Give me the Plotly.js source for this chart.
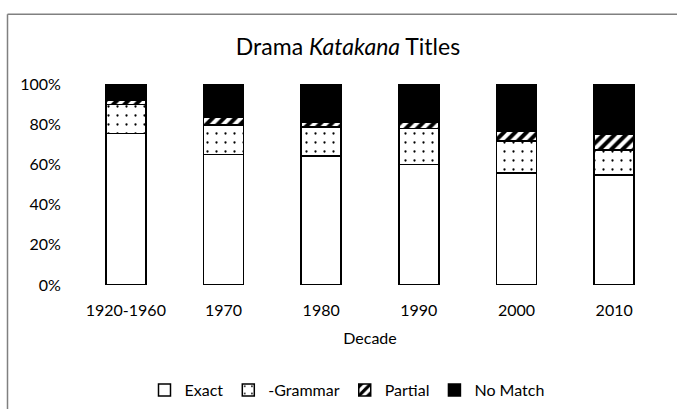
<!DOCTYPE html>
<html>
<head>
<meta charset="utf-8">
<script src="https://cdn.plot.ly/plotly-3.0.1.min.js"></script>
<style>html,body{margin:0;padding:0;background:#fff;}#chart{width:677px;height:409px;}</style>
</head>
<body>
<div id="chart"></div>
<script>
const decades = ["1920-1960", "1970", "1980", "1990", "2000", "2010"];
const exact   = [0.753, 0.650, 0.641, 0.600, 0.558, 0.547];
const grammar = [0.146, 0.145, 0.145, 0.178, 0.159, 0.124];
const partial = [0.019, 0.041, 0.022, 0.033, 0.048, 0.078];
const noMatch = [0.082, 0.164, 0.192, 0.189, 0.235, 0.251];
const seriesNames = ["Exact", "-Grammar", "Partial", "No Match"];

const FONT = "Lato, 'Open Sans', sans-serif";
const lineStyle = {color: "#000", width: 1.5};

const traces = [
  {name: seriesNames[0], y: exact, marker: {color: "#fff", line: lineStyle}},
  {name: seriesNames[1], y: grammar, marker: {color: "#fff", line: lineStyle,
     pattern: {shape: ".", fgcolor: "#000", bgcolor: "#fff", size: 9, solidity: 0.05}}},
  {name: seriesNames[2], y: partial, marker: {color: "#fff", line: lineStyle,
     pattern: {shape: "/", fgcolor: "#000", bgcolor: "#fff", size: 8, solidity: 0.5}}},
  {name: seriesNames[3], y: noMatch, marker: {color: "#000", line: lineStyle}}
].map(t => Object.assign({type: "bar", x: decades, hoverinfo: "x+y+name"}, t));

const layout = {
  width: 677, height: 409,
  margin: {l: 77, r: 14, t: 83.5, b: 123.5, autoexpand: false},
  paper_bgcolor: "#fff", plot_bgcolor: "#fff",
  barmode: "stack",
  bargap: 0.59,
  font: {family: FONT, color: "#404040", size: 15},
  title: {text: "Drama <i>Katakana</i> Titles", font: {family: FONT, size: 23, color: "#000"},
          x: 348/677, xref: "container", xanchor: "center", y: 1 - 47/409, yref: "container", yanchor: "middle"},
  xaxis: {type: "category", showline: false, showgrid: false, zeroline: false, automargin: false,
          ticks: "outside", ticklen: 11, tickcolor: "rgba(0,0,0,0)",
          tickfont: {family: FONT, size: 16, color: "#000"},
          title: {text: "Decade", font: {family: FONT, size: 16, color: "#000"}, standoff: 14}},
  yaxis: {range: [0, 1], dtick: 0.2, tickformat: ".0%", showline: false, showgrid: false, zeroline: false, automargin: false,
          ticks: "outside", ticklen: 12, tickcolor: "rgba(0,0,0,0)",
          tickfont: {family: FONT, size: 16, color: "#000"}},
  legend: {orientation: "h", x: 347/677, xref: "container", xanchor: "center", y: 1 - 390/409, yref: "container", yanchor: "middle",
           font: {family: FONT, size: 16, color: "#000"}, traceorder: "normal", itemclick: false},
  shapes: [
    {type: "line", xref: "paper", yref: "paper", x0: (7.5-77)/586, x1: 1.1, y0: (285.5-13.5)/202, y1: (285.5-13.5)/202,
     line: {color: "#808080", width: 1.5}},
    {type: "line", xref: "paper", yref: "paper", x0: (7.5-77)/586, x1: (7.5-77)/586, y0: (285.5-13.5)/202, y1: -0.7,
     line: {color: "#808080", width: 1.5}}
  ],
  showlegend: true
};

Plotly.newPlot("chart", traces, layout, {displayModeBar: false, staticPlot: true});
</script>
</body>
</html>
